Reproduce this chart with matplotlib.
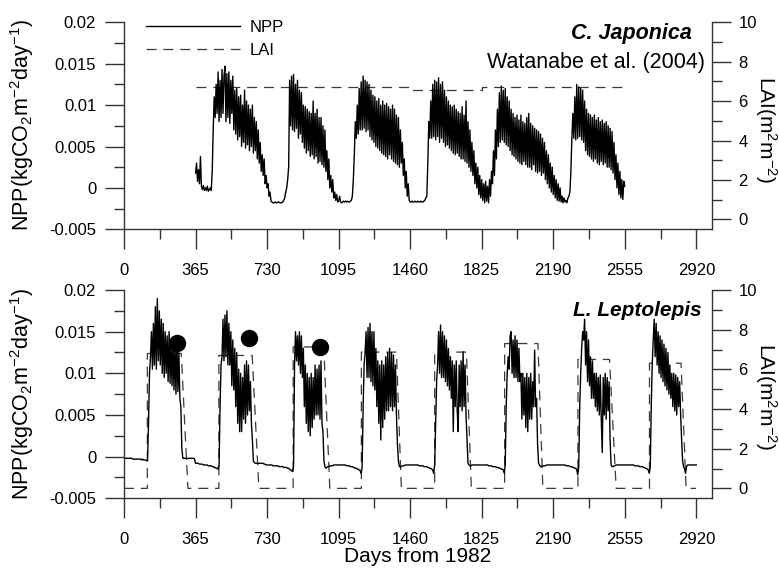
import numpy as np
import matplotlib
matplotlib.use("Agg")
import matplotlib.pyplot as plt
from matplotlib.ticker import MultipleLocator

plt.rcParams['font.family'] = ['Liberation Sans', 'DejaVu Sans']
plt.rcParams['mathtext.fontset'] = 'custom'
plt.rcParams['mathtext.rm'] = 'Liberation Sans'
plt.rcParams['mathtext.it'] = 'Liberation Sans:italic'
plt.rcParams['mathtext.bf'] = 'Liberation Sans:bold'

STEP = 5  # days between NPP samples

# C. Japonica, NPP in 1e-4 kgCO2/m2/day, one value every 5 days from day 365
jap_start = 365
jap_npp_raw = [
    18, 30, 8, 22, 5, 38, 2, -2, 3, -3,                  # 365
    0, -3, 2, -4, -2, 0, -3, 20, 70, 110,                # 415
    85, 125, 90, 140, 80, 130, 85, 143, 90, 135,         # 465
    147, 80, 138, 85, 140, 78, 130, 90, 135, 70,         # 515
    118, 65, 120, 58, 110, 62, 112, 50, 100, 55,         # 565
    118, 48, 105, 52, 100, 45, 95, 50, 100, 42,          # 615
    85, 45, 80, 35, 70, 30, 55, 20, 40, 15,              # 665
    35, 5, 15, 0, 5, -10, -5, -16, -17, -18,             # 715
    -18, -17, -18, -18, -17, -17, -18, -18, -18, -17,    # 765
    -15, -12, -5, 0, 10, 25, 130, 75, 135, 70,           # 815
    137, 68, 125, 72, 130, 60, 118, 65, 115, 55,         # 865
    100, 48, 98, 42, 95, 45, 92, 38, 90, 40,             # 915
    105, 35, 90, 38, 95, 30, 85, 32, 85, 28,             # 965
    75, 25, 70, 20, 45, 10, 35, 0, 15, -5,               # 1015
    10, -12, -5, -15, -8, -17, -16, -10, -17, -18,       # 1065
    -17, -16, -17, -16, -17, -16, -17, -17, -16, -15,    # 1115
    -10, 10, 40, 80, 60, 100, 65, 120, 70, 128,          # 1165
    70, 135, 72, 130, 68, 128, 70, 125, 62, 118,         # 1215
    58, 112, 55, 110, 50, 105, 48, 108, 45, 100,         # 1265
    42, 105, 40, 100, 38, 102, 35, 98, 40, 95,           # 1315
    35, 100, 32, 95, 30, 88, 28, 85, 25, 70,             # 1365
    30, 55, 15, 35, 0, 20, -10, 5, -15, -17,             # 1415
    -17, -16, -17, -17, -16, -17, -17, -16, -17, -17,    # 1465
    -16, -17, -17, -16, -15, -12, -10, 30, 80, 60,       # 1515
    105, 60, 125, 62, 130, 58, 128, 62, 133, 55,         # 1565
    125, 60, 128, 55, 118, 50, 110, 52, 105, 48,         # 1615
    100, 45, 98, 42, 100, 40, 95, 42, 92, 38,            # 1665
    90, 35, 98, 35, 88, 32, 105, 30, 80, 25,             # 1715
    70, 20, 55, 15, 45, 5, 30, 0, 25, -8,                # 1765
    15, -12, 10, -15, 5, -18, 8, -16, 2, -18,            # 1815
    10, -10, 20, 5, 45, 15, 70, 35, 95, 50,              # 1865
    115, 55, 123, 58, 118, 55, 120, 52, 110, 50,         # 1915
    105, 45, 95, 40, 90, 38, 85, 35, 88, 32,             # 1965
    82, 30, 88, 28, 80, 32, 78, 28, 85, 25,              # 2015
    90, 25, 78, 22, 75, 28, 72, 20, 70, 18,              # 2065
    68, 20, 65, 15, 60, 18, 55, 10, 45, 5,               # 2115
    40, 0, 30, -5, 25, -8, 15, -12, 10, -15,             # 2165
    5, -16, 0, -17, -10, -18, -12, -17, -15, -18,        # 2215
    -12, -10, -5, 20, 60, 90, 60, 110, 58, 125,          # 2265
    60, 122, 62, 120, 58, 118, 55, 105, 45, 95,          # 2315
    40, 90, 38, 88, 35, 85, 32, 88, 35, 82,              # 2365
    30, 85, 28, 80, 32, 82, 28, 78, 30, 80,              # 2415
    25, 75, 25, 72, 22, 68, 18, 55, 10, 40,              # 2465
    0, 30, -8, 20, -12, 10, -14, 8, 2,                   # 2515
]
jap_lai_days = [365, 1460, 1460, 1825, 1825, 2555]
jap_lai = [6.7, 6.7, 6.55, 6.55, 6.7, 6.7]

# L. Leptolepis, NPP in 1e-4 kgCO2/m2/day, one value every 5 days from day 0
lep_npp_raw = [
    -2, -2, -2, -2, -2, -2, -2, -2, -2, -3,              # 0
    -3, -3, -3, -3, -3, -3, -3, -3, -4, -3,              # 50
    -4, -4, -4, -5, -5, 40, 100, 120, 150, 105,          # 100
    160, 110, 180, 105, 190, 115, 175, 110, 165, 100,    # 150
    160, 95, 150, 100, 145, 90, 150, 88, 135, 85,        # 200
    140, 80, 135, 75, 140, 78, 125, 70, 60, 10,          # 250
    -2, -2, -2, -2, -3, -2, -2, -2, -2, -2,              # 300
    -2, -2, -3, -8, -8, -8, -8, -9, -9, -9,              # 350
    -9, -10, -10, -10, -10, -10, -11, -11, -11, -11,     # 400
    -12, -12, -13, -13, -14, -14, -15, -10, 60, 110,     # 450
    120, 165, 115, 170, 120, 175, 110, 160, 110, 150,    # 500
    85, 140, 80, 130, 60, 125, 40, 105, 30, 100,         # 550
    30, 95, 45, 110, 40, 115, 50, 110, 55, 90,           # 600
    40, 20, -5, -7, -8, -8, -8, -8, -8, -8,              # 650
    -8, -8, -8, -9, -9, -10, -10, -10, -10, -10,         # 700
    -10, -10, -11, -11, -11, -11, -11, -11, -12, -12,    # 750
    -12, -12, -12, -13, -13, -13, -13, -14, -14, -15,    # 800
    -16, -17, -18, -12, 110, 150, 115, 145, 110, 150,    # 850
    100, 145, 95, 130, 60, 110, 40, 100, 30, 95,         # 900
    25, 100, 35, 95, 45, 110, 50, 105, 50, 110,          # 950
    45, 115, 40, 30, -5, -12, -14, -13, -12, -12,        # 1000
    -11, -11, -11, -11, -10, -10, -10, -10, -10, -10,    # 1050
    -10, -10, -10, -10, -10, -10, -10, -11, -11, -11,    # 1100
    -11, -12, -12, -12, -13, -13, -14, -14, -15, -15,    # 1150
    -16, -17, -20, -12, 60, 110, 125, 150, 95, 155,      # 1200
    95, 160, 90, 150, 85, 150, 80, 130, 60, 115,         # 1250
    40, 110, 20, 115, 35, 110, 45, 120, 55, 125,         # 1300
    55, 130, 60, 125, 55, 122, 60, 110, 50, 15,          # 1350
    -5, -12, -12, -12, -11, -11, -11, -10, -10, -10,     # 1400
    -10, -10, -10, -10, -10, -10, -10, -10, -10, -10,    # 1450
    -10, -11, -11, -11, -11, -11, -12, -12, -12, -12,    # 1500
    -13, -13, -14, -14, -15, -16, -20, -10, 40, 90,      # 1550
    110, 150, 100, 158, 95, 150, 95, 145, 90, 140,       # 1600
    85, 130, 80, 120, 70, 115, 30, 110, 60, 115,         # 1650
    55, 30, 110, 60, 115, 55, 126, 60, 110, 50,          # 1700
    20, -8, -10, -11, -11, -10, -10, -10, -10, -10,      # 1750
    -10, -10, -10, -10, -10, -10, -10, -10, -10, -10,    # 1800
    -10, -10, -11, -11, -11, -11, -12, -12, -12, -12,    # 1850
    -13, -13, -13, -14, -14, -15, -15, -16, -20, -10,    # 1900
    60, 100, 120, 105, 145, 150, 100, 140, 95, 145,      # 1950
    95, 140, 90, 130, 90, 100, 45, 100, 50, 95,          # 2000
    35, 100, 30, 95, 45, 100, 45, 90, 60, 128,           # 2050
    60, 70, 15, -8, -10, -12, -12, -11, -11, -11,        # 2100
    -11, -10, -10, -10, -10, -10, -10, -10, -10, -10,    # 2150
    -10, -10, -10, -10, -10, -10, -10, -10, -10, -10,    # 2200
    -10, -11, -11, -11, -11, -12, -12, -12, -13, -13,    # 2250
    -14, -14, -16, -22, -12, 60, 100, 130, 150, 140,     # 2300
    165, 110, 150, 90, 140, 85, 120, 70, 115, 70,        # 2350
    100, 60, 100, 55, 95, 50, 98, 45, 5, 95,             # 2400
    50, 100, 45, 95, 55, 90, 20, -10, -12, -12,          # 2450
    -11, -11, -10, -10, -10, -10, -10, -10, -10, -10,    # 2500
    -10, -10, -10, -10, -10, -10, -10, -10, -10, -10,    # 2550
    -10, -11, -11, -11, -11, -11, -12, -12, -12, -12,    # 2600
    -13, -13, -14, -14, -15, -16, -20, -12, 60, 110,     # 2650
    140, 165, 120, 160, 110, 150, 100, 145, 95, 140,     # 2700
    90, 135, 85, 130, 80, 125, 75, 110, 70, 100,         # 2750
    60, 100, 55, 98, 50, 95, 60, 90, 50, 20,             # 2800
    -5, -12, -15, -20, -12, -10, -10, -10, -10, -10,     # 2850
    -10, -10, -10, -10, -10,                             # 2900
]
lep_lai_days = [0, 119, 119, 292, 326, 484, 484, 654, 688, 863, 863, 1019, 1050,
                1211, 1211, 1390, 1415, 1585, 1585, 1747, 1772, 1942, 1942, 2112,
                2137, 2316, 2316, 2477, 2511, 2681, 2681, 2842, 2868, 2919]
lep_lai = [0, 0, 6.8, 6.8, 0, 0, 6.7, 6.7, 0, 0, 7.13, 7.13, 0,
           0, 6.87, 6.87, 0, 0, 6.87, 6.87, 0, 0, 7.3, 7.3,
           0, 0, 6.5, 6.5, 0, 0, 6.31, 6.31, 0, 0]
obs_days = [272, 637, 1002]
obs_npp = [0.0136, 0.0142, 0.0132]

day_ticks = [0, 365, 730, 1095, 1460, 1825, 2190, 2555, 2920]
npp_ticks = [-0.005, 0, 0.005, 0.01, 0.015, 0.02]
lai_ticks = [0, 2, 4, 6, 8, 10]

jap_npp = np.array(jap_npp_raw) / 1e4
jap_days = jap_start + STEP * np.arange(len(jap_npp))
lep_npp = np.array(lep_npp_raw) / 1e4
lep_days = STEP * np.arange(len(lep_npp))

AX_COL = '#333333'
LAI_COL = '#3a3a3a'
LAI_DASH = (8, 5.5)
NPP_LW = 1.0


def style_panel(ax, ax2):
    ax.set_xlim(0, 3000)
    ax.set_ylim(-0.005, 0.02)
    ax2.set_ylim(-0.5, 10)
    ax.set_xticks(day_ticks, labels=[str(d) for d in day_ticks])
    ax.xaxis.set_minor_locator(MultipleLocator(182.5))
    ax.set_yticks(npp_ticks, labels=[f'{t:g}' for t in npp_ticks])
    ax.yaxis.set_minor_locator(MultipleLocator(0.0025))
    ax2.set_yticks(lai_ticks, labels=[str(t) for t in lai_ticks])
    ax2.yaxis.set_minor_locator(MultipleLocator(1))
    for a in (ax, ax2):
        a.spines['top'].set_visible(False)
        for s in a.spines.values():
            s.set_color(AX_COL)
            s.set_linewidth(1.0)
    ax.spines['right'].set_visible(False)
    ax2.spines['left'].set_visible(False)
    ax2.spines['bottom'].set_visible(False)
    ax.tick_params(axis='x', which='major', direction='out', length=14.5,
                   width=1, color=AX_COL, labelsize=12, pad=10)
    ax.tick_params(axis='x', which='minor', direction='out', length=7.5,
                   width=1, color=AX_COL)
    ax.tick_params(axis='y', which='major', direction='out', length=14,
                   width=1, color=AX_COL, labelsize=12, pad=6)
    ax.tick_params(axis='y', which='minor', direction='out', length=7.5,
                   width=1, color=AX_COL)
    ax2.tick_params(axis='y', which='major', direction='out', length=14,
                    width=1, color=AX_COL, labelsize=12, pad=5)
    ax2.tick_params(axis='y', which='minor', direction='out', length=7.5,
                    width=1, color=AX_COL)
    # NPP drawn above LAI
    ax.set_zorder(ax2.get_zorder() + 1)
    ax.patch.set_visible(False)


fig = plt.figure(figsize=(7.79, 5.70), dpi=100)
ax_top = fig.add_axes([0.1592, 0.5977, 0.7548, 0.3632])
ax_top2 = ax_top.twinx()
ax_bot = fig.add_axes([0.1592, 0.1258, 0.7548, 0.3654])
ax_bot2 = ax_bot.twinx()

# top panel
l_npp, = ax_top.plot(jap_days, jap_npp, color='black', lw=NPP_LW, label='NPP')
l_lai, = ax_top2.plot(jap_lai_days, jap_lai, color=LAI_COL, lw=0.9,
                      dashes=LAI_DASH, label='LAI')
style_panel(ax_top, ax_top2)
ax_top.legend([l_npp, l_lai], ['NPP', 'LAI'], loc='upper left',
              bbox_to_anchor=(0.038, 1.012), frameon=False, fontsize=12,
              handlelength=5.6, handletextpad=0.6, labelspacing=0.5,
              borderpad=0, borderaxespad=0)
ax_top.text(0.966, 0.948, 'C. Japonica', transform=ax_top.transAxes,
            ha='right', va='center', fontsize=15.5, fontweight='bold',
            fontstyle='italic')
ax_top.text(0.988, 0.808, 'Watanabe et al. (2004)', transform=ax_top.transAxes,
            ha='right', va='center', fontsize=15.5)

# bottom panel
ax_bot.plot(lep_days, lep_npp, color='black', lw=NPP_LW)
ax_bot2.plot(lep_lai_days, lep_lai, color=LAI_COL, lw=0.9, dashes=LAI_DASH)
ax_bot.plot(obs_days, obs_npp, 'o', color='black', ms=11.5)
style_panel(ax_bot, ax_bot2)
ax_bot.text(0.982, 0.904, 'L. Leptolepis', transform=ax_bot.transAxes,
            ha='right', va='center', fontsize=15, fontweight='bold',
            fontstyle='italic')
ax_bot.set_xlabel('Days from 1982', fontsize=15, labelpad=0)

# axis titles
npp_label = r'NPP(kgCO$_2$m$^{-2}$day$^{-1}$)'
lai_label = r'LAI(m$^2$m$^{-2}$)'
fig.text(0.0282, 0.781, npp_label, rotation=90, ha='center', va='center', fontsize=15.5)
fig.text(0.0282, 0.309, npp_label, rotation=90, ha='center', va='center', fontsize=15.5)
fig.text(0.983, 0.772, lai_label, rotation=270, ha='center', va='center', fontsize=15)
fig.text(0.983, 0.305, lai_label, rotation=270, ha='center', va='center', fontsize=15)

fig.savefig('out.png', dpi=100)
